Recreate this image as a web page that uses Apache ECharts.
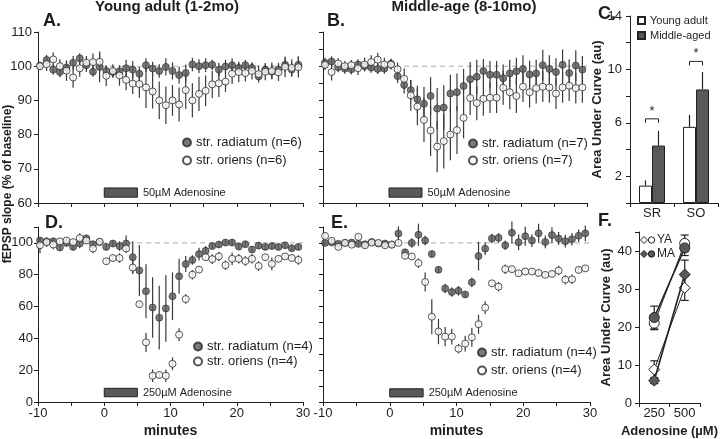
<!DOCTYPE html>
<html><head><meta charset="utf-8">
<script src="https://cdn.jsdelivr.net/npm/echarts@6/dist/echarts.min.js"></script>
<style>html,body{margin:0;padding:0;background:#fff}#c{width:720px;height:439px}</style>
</head><body><div id="c"></div>
<script>
// ---------- DATA ----------
const minutes = [-9.7,-8.7,-7.7,-6.7,-5.7,-4.7,-3.7,-2.7,-1.7,-0.7,0.3,1.3,2.3,3.3,4.3,5.3,6.3,7.3,8.3,9.3,10.3,11.3,12.3,13.3,14.3,15.3,16.3,17.3,18.3,19.3,20.3,21.3,22.3,23.3,24.3,25.3,26.3,27.3,28.3,29.3];
const adenosinePeriod = [0, 5];
const baselineLevel = 100;

// A: young adult, 50 uM
const aRad = [100.2,101.8,99.0,98.3,99.6,101.0,102.3,100.3,98.4,99.8,98.6,98.3,98.5,99.4,99.0,97.8,100.3,99.3,98.6,99.8,98.6,97.4,98.0,100.5,100.0,100.3,100.4,99.0,99.9,100.3,99.5,100.3,99.5,97.0,99.0,98.4,99.0,100.4,99.0,100.4];
const aRadErr = [1.0,1.5,1.5,1.5,1.5,2.0,1.5,2.0,1.5,4.5,1.5,1.5,1.5,2.5,2.5,2.0,2.0,2.0,2.0,2.5,2.5,2.5,2.5,2.0,2.0,2.0,1.5,2.0,2.0,2.0,1.5,1.5,1.5,1.5,1.5,2.0,2.0,2.0,2.0,2.5];
const aOri = [100.0,100.6,102.0,100.0,98.7,96.7,99.4,101.0,101.2,101.3,97.2,98.6,97.3,96.0,94.9,94.8,93.8,92.6,90.0,88.6,90.0,88.8,93.0,90.0,91.9,92.8,94.7,95.0,95.5,97.8,98.3,98.0,98.6,97.7,98.4,98.6,98.2,99.8,99.5,99.7];
const aOriErr = [1.0,2.0,2.0,2.0,3.0,3.0,2.5,2.0,2.5,2.5,3.0,2.0,3.0,3.0,3.0,4.0,6.0,5.0,5.5,5.5,4.5,5.0,5.5,5.0,5.0,4.5,4.0,4.0,3.0,3.0,3.0,2.5,2.5,2.5,2.5,2.5,2.5,3.0,2.5,3.0];

// B: middle-age, 50 uM
const bRad = [101.0,101.4,99.7,99.3,99.1,100.5,100.0,99.6,99.2,99.3,100.7,97.1,94.5,93.0,90.3,89.0,91.3,87.6,87.9,92.0,92.4,94.2,96.2,96.9,98.6,97.5,97.5,96.5,97.9,98.5,99.2,97.6,97.9,100.3,99.2,98.3,100.4,98.0,100.2,99.0];
const bRadErr = [1.5,1.5,1.5,1.5,1.5,1.5,1.5,1.5,1.5,1.5,1.5,2.0,2.5,3.0,4.0,5.0,5.5,6.0,6.5,5.5,5.5,5.0,5.0,5.0,3.5,4.0,4.0,4.0,4.0,4.0,4.0,4.0,4.0,4.5,4.0,4.0,4.5,4.0,4.5,4.0];
const bOri = [100.4,98.3,100.8,100.0,100.3,99.4,100.5,101.2,101.9,100.5,100.5,99.1,96.3,91.5,88.2,84.3,81.2,76.5,78.1,80.0,81.3,84.9,90.7,89.2,90.5,90.8,90.8,93.7,92.4,91.3,94.0,92.4,93.6,94.0,93.8,92.0,93.8,94.3,93.6,93.8];
const bOriErr = [1.5,2.5,1.5,1.5,1.5,2.0,2.0,2.0,2.0,2.0,1.5,2.0,3.0,4.5,5.5,6.5,7.5,7.5,8.0,7.5,7.0,6.0,5.0,5.0,5.0,4.5,4.5,5.0,5.0,5.0,4.5,4.5,4.5,4.5,4.5,4.5,4.5,4.5,4.5,4.5];

// D: young adult, 250 uM
const dRad = [101.5,101.0,101.0,97.1,100.0,97.5,99.6,102.9,99.2,100.5,97.5,99.6,98.0,99.6,91.0,82.7,69.6,59.4,53.0,58.8,66.5,79.0,86.7,89.3,93.0,95.0,98.0,99.0,100.2,100.2,97.7,99.2,95.8,98.3,97.5,98.0,97.5,98.5,96.7,97.5];
const dRadErr = [2,2,2,2,2,2,3,2,2,2,2,2,3,5,10,16,17,19,20,21,15,11,5,3,4,3,2,2,2,2,2,2,2,2,2,2,2,2,2,2];
const dOri = [98.5,100.5,99.0,101.0,101.5,100.5,103.0,101.5,96.5,100.8,88.5,90.5,90.5,96.5,84.5,61.5,37.5,16.5,17.0,16.5,24.0,42.3,64.7,80.0,83.2,91.0,89.8,91.5,86.0,90.0,90.0,88.6,90.0,85.5,91.0,86.8,90.0,91.5,90.5,89.3];
const dOriErr = [5,3,3,2,2,2,3,2,3,1.5,2,2,3,3,4,2,6,4,2,4,4,4,3,3,2,2,3,3,3,4,3,3,3,3,2,4,2,2,2,3];

// E: middle-age, 250 uM
const eRad = [100.0,100.3,99.4,100.0,100.2,99.4,99.2,100.6,99.6,99.6,99.0,105.9,94.1,100.0,105.1,101.5,93.0,83.1,71.4,69.1,69.9,67.6,75.2,91.7,96.4,102.8,103.2,98.5,106.4,100.4,104.2,101.5,106.1,100.6,104.9,102.8,101.1,102.3,104.5,106.0];
const eRadErr = [1.5,1.5,1.5,1.5,1.5,1.5,1.5,1.5,1.5,1.5,1.5,4.5,2,3,7,3,2,2,3,3,3,2,3,9,4,3,3,3,7,5,6,4,6,4,5,4,4,4,4,5];
const eOri = [104.4,101.3,97.5,100.0,98.9,103.8,98.5,100.2,100.0,98.5,98.9,100.0,91.9,91.5,87.3,75.4,53.6,44.3,41.1,41.1,33.5,36.7,40.7,48.9,59.3,74.6,72.5,83.5,83.5,80.9,82.0,82.0,81.1,79.9,80.5,82.6,76.9,77.1,83.0,84.0];
const eOriErr = [1.5,1.5,1.5,1.5,1.5,1.5,1.5,1.5,1.5,1.5,1.5,1.5,2,2,3,6,11,8,6,5,3,5,6,6,4,2,3,3,2,2,2,2,2,2,2,3,3,3,2,2];

// C: area under curve, 50 uM
const cCats = ['SR', 'SO'];
const cYoung = [1.3, 5.7];
const cYoungErr = [0.4, 0.9];
const cMiddle = [4.3, 8.5];
const cMiddleErr = [1.1, 1.3];
const cSigLevel = [6.3, 10.6];

// F: area under curve vs adenosine
const fCats = ['250', '500'];
const fYAcirc = [21.0, 42.0];
const fYAcircErr = [1.7, 2.2];
const fMAcirc = [22.5, 40.8];
const fMAcircErr = [3.0, 2.0];
const fYAdia = [8.8, 30.3];
const fYAdiaErr = [2.3, 3.3];
const fMAdia = [5.9, 33.8];
const fMAdiaErr = [0.8, 3.8];

// ---------- STYLE ----------
const FONT = 'Liberation Sans, Arial, sans-serif';
const INK = '#1e1e1e';
const DARK = '#595959';

function timeAxis(gi, withLabels) {
  return {
    type: 'value', gridIndex: gi, min: -10, max: 30, interval: 5,
    axisLine: { show: true, onZero: false, lineStyle: { color: INK, width: 1 } },
    axisTick: { show: true, length: 4, lineStyle: { color: INK } },
    splitLine: { show: false },
    axisLabel: { show: withLabels, formatter: v => (v % 10 === 0 ? String(v) : ''), color: INK, fontSize: 13, fontFamily: FONT, margin: 5 },
    name: withLabels ? 'minutes' : '', nameLocation: 'middle', nameGap: 22,
    nameTextStyle: { fontWeight: 'bold', fontSize: 14, color: INK, fontFamily: FONT }
  };
}
function valAxis(gi, min, max, interval, fmt, margin, name, nameGap) {
  return {
    type: 'value', gridIndex: gi, min, max, interval,
    axisLine: { show: true, onZero: false, lineStyle: { color: INK, width: 1 } },
    axisTick: { show: true, length: 4, lineStyle: { color: INK } },
    splitLine: { show: false },
    axisLabel: { show: !!fmt, formatter: fmt || undefined, color: INK, fontSize: 13, fontFamily: FONT, margin: margin || 6 },
    name: name || '', nameLocation: 'middle', nameGap: nameGap || 20,
    nameTextStyle: { fontWeight: 'bold', fontSize: 13, color: INK, fontFamily: FONT }
  };
}
function catAxis(gi, cats, name) {
  return {
    type: 'category', gridIndex: gi, data: cats, boundaryGap: true,
    axisLine: { show: true, onZero: false, lineStyle: { color: INK, width: 1 } },
    axisTick: { show: true, length: 4, lineStyle: { color: INK } },
    axisLabel: { color: INK, fontSize: 13, fontFamily: FONT, margin: 4 },
    name: name || '', nameLocation: 'middle', nameGap: 22,
    nameTextStyle: { fontWeight: 'bold', fontSize: 13, color: INK, fontFamily: FONT }
  };
}

function errBars(vals, errs, xi) {
  return {
    type: 'custom', xAxisIndex: xi, yAxisIndex: xi, z: 1, silent: true,
    data: vals.map((v, i) => [minutes[i], v, errs[i]]),
    renderItem: (p, api) => {
      const x = api.value(0), y = api.value(1), e = api.value(2);
      const a = api.coord([x, y - e]), b = api.coord([x, y + e]);
      return { type: 'line', shape: { x1: a[0], y1: a[1], x2: b[0], y2: b[1] }, style: { stroke: '#3a3a3a', lineWidth: 1.2 } };
    }
  };
}
function pts(name, vals, xi, filled) {
  return {
    type: 'scatter', name, xAxisIndex: xi, yAxisIndex: xi, z: filled ? 3 : 4,
    symbol: 'circle', symbolSize: 7,
    data: vals.map((v, i) => [minutes[i], v]),
    itemStyle: filled ? { color: DARK, borderColor: '#2a2a2a', borderWidth: 0.8 } : { color: '#fff', borderColor: '#2a2a2a', borderWidth: 1 },
    emphasis: { disabled: true }
  };
}
function baseline(xi, yLo, yHi, label) {
  return {
    type: 'line', xAxisIndex: xi, yAxisIndex: xi, z: 0, symbol: 'none', silent: true,
    data: [[-10, baselineLevel], [30, baselineLevel]],
    lineStyle: { color: '#aaa', width: 1, type: [5, 4] },
    markArea: {
      silent: true,
      itemStyle: { color: DARK, borderColor: '#222', borderWidth: 1 },
      label: { show: true, position: 'right', distance: 5, color: INK, fontSize: 11, fontFamily: FONT, formatter: label },
      data: [[{ coord: [adenosinePeriod[0], yLo] }, { coord: [adenosinePeriod[1], yHi] }]]
    }
  };
}
function cErr(vals, errs, side) {
  return {
    type: 'custom', xAxisIndex: 2, yAxisIndex: 2, z: 1, silent: true,
    data: vals.map((v, i) => [i, v, errs[i], side]),
    renderItem: (p, api) => {
      const a = api.coord([api.value(0), api.value(1)]);
      const b = api.coord([api.value(0), api.value(1) + api.value(2)]);
      const dx = api.value(3) * 6.5;
      return { type: 'line', shape: { x1: a[0] + dx, y1: a[1], x2: b[0] + dx, y2: b[1] }, style: { stroke: '#222', lineWidth: 1.2 } };
    }
  };
}
function fErr(vals, errs) {
  return {
    type: 'custom', xAxisIndex: 5, yAxisIndex: 5, z: 1, silent: true,
    data: vals.map((v, i) => [i, v, errs[i]]),
    renderItem: (p, api) => {
      const c = api.value(0), y = api.value(1), e = api.value(2);
      const a = api.coord([c, y - e]), b = api.coord([c, y + e]);
      const st = { stroke: '#222', lineWidth: 1.2 };
      return { type: 'group', children: [
        { type: 'line', shape: { x1: a[0], y1: a[1], x2: b[0], y2: b[1] }, style: st },
        { type: 'line', shape: { x1: a[0] - 4, y1: a[1], x2: a[0] + 4, y2: a[1] }, style: st },
        { type: 'line', shape: { x1: b[0] - 4, y1: b[1], x2: b[0] + 4, y2: b[1] }, style: st }
      ] };
    }
  };
}
function fLine(vals, symbol, size, filled, lw) {
  return {
    type: 'line', xAxisIndex: 5, yAxisIndex: 5, z: filled ? 4 : 3, data: vals,
    symbol, symbolSize: size, showSymbol: true,
    itemStyle: filled ? { color: DARK, borderColor: '#222', borderWidth: 1 } : { color: '#fff', borderColor: '#222', borderWidth: 1 },
    lineStyle: { color: '#222', width: lw }, emphasis: { disabled: true }
  };
}

const legendBase = { orient: 'vertical', padding: 0, itemWidth: 8, itemHeight: 8, selectedMode: false,
  textStyle: { fontSize: 13, fontFamily: FONT, color: INK } };

function txt(x, y, s, font, align, rot) {
  return { type: 'text', x, y, rotation: rot || 0, silent: true,
    style: { text: s, font: font + ' ' + FONT, fill: INK, align: align || 'left', verticalAlign: 'middle' } };
}

const option = {
  animation: false,
  backgroundColor: '#fff',
  grid: [
    { left: 38, top: 32, width: 265, height: 171 },
    { left: 323, top: 32, width: 264, height: 171 },
    { left: 630, top: 16, width: 88, height: 187 },
    { left: 38, top: 227, width: 265, height: 175 },
    { left: 323, top: 227, width: 267, height: 175 },
    { left: 639, top: 232, width: 79, height: 173 }
  ],
  xAxis: [
    timeAxis(0, false), timeAxis(1, false), catAxis(2, cCats),
    timeAxis(3, true), timeAxis(4, true), catAxis(5, fCats, 'Adenosine (µM)')
  ],
  yAxis: [
    valAxis(0, 60, 110, 10, v => String(v), 6),
    valAxis(1, 60, 110, 5, null),
    valAxis(2, 0, 14, 2, v => ((v - 2) % 4 === 0 ? String(v) : ''), 8, 'Area Under Curve (au)', 20),
    valAxis(3, 0, 110, 20, v => (v % 20 === 0 ? String(v) : ''), 5),
    valAxis(4, 0, 110, 10, null),
    valAxis(5, 0, 45, 10, v => (v % 10 === 0 ? String(v) : ''), 7, 'Area Under Curve (au)', 26)
  ],
  legend: [
    Object.assign({}, legendBase, { data: ['str. radiatum (n=6)', 'str. oriens (n=6)'], left: 182, top: 136, itemGap: 5 }),
    Object.assign({}, legendBase, { data: ['str. radiatum (n=7)', 'str. oriens (n=7)'], left: 468, top: 137, itemGap: 4 }),
    Object.assign({}, legendBase, { data: ['Young adult', 'Middle-aged'], left: 637, top: 15, itemGap: 4, icon: 'rect',
      itemWidth: 7, itemHeight: 7, textStyle: { fontSize: 11, fontFamily: FONT, color: INK } }),
    Object.assign({}, legendBase, { data: ['str. radiatum (n=4)', 'str. oriens (n=4)'], left: 193, top: 340, itemGap: 2 }),
    Object.assign({}, legendBase, { data: ['str. radiatum (n=4)', 'str. oriens (n=4)'], left: 477, top: 346, itemGap: 5 })
  ],
  series: [
    baseline(0, 61.7, 64.4, '50µM Adenosine'),
    errBars(aRad, aRadErr, 0), errBars(aOri, aOriErr, 0),
    pts('str. radiatum (n=6)', aRad, 0, true), pts('str. oriens (n=6)', aOri, 0, false),

    baseline(1, 61.7, 64.4, '50µM Adenosine'),
    errBars(bRad, bRadErr, 1), errBars(bOri, bOriErr, 1),
    pts('str. radiatum (n=7)', bRad, 1, true), pts('str. oriens (n=7)', bOri, 1, false),

    baseline(3, 3.3, 8.6, '250µM Adenosine'),
    errBars(dRad, dRadErr, 3), errBars(dOri, dOriErr, 3),
    pts('str. radiatum (n=4)', dRad, 3, true), pts('str. oriens (n=4)', dOri, 3, false),

    baseline(4, 3.2, 8.3, '250µM Adenosine'),
    errBars(eRad, eRadErr, 4), errBars(eOri, eOriErr, 4),
    pts('str. radiatum (n=4)', eRad, 4, true), pts('str. oriens (n=4)', eOri, 4, false),

    { type: 'bar', name: 'Young adult', xAxisIndex: 2, yAxisIndex: 2, data: cYoung, barWidth: 13, barGap: '0%', z: 2,
      itemStyle: { color: '#fff', borderColor: '#222', borderWidth: 1 }, emphasis: { disabled: true } },
    { type: 'bar', name: 'Middle-aged', xAxisIndex: 2, yAxisIndex: 2, data: cMiddle, barWidth: 13, barGap: '0%', z: 2,
      itemStyle: { color: DARK, borderColor: '#222', borderWidth: 1 }, emphasis: { disabled: true } },
    cErr(cYoung, cYoungErr, -1), cErr(cMiddle, cMiddleErr, 1),
    { type: 'custom', xAxisIndex: 2, yAxisIndex: 2, z: 3, silent: true,
      data: cSigLevel.map((v, i) => [i, v]),
      renderItem: (p, api) => {
        const c = api.coord([api.value(0), api.value(1)]);
        const st = { stroke: '#222', lineWidth: 1 };
        return { type: 'group', children: [
          { type: 'line', shape: { x1: c[0] - 6.5, y1: c[1], x2: c[0] + 6.5, y2: c[1] }, style: st },
          { type: 'line', shape: { x1: c[0] - 6.5, y1: c[1], x2: c[0] - 6.5, y2: c[1] + 4 }, style: st },
          { type: 'line', shape: { x1: c[0] + 6.5, y1: c[1], x2: c[0] + 6.5, y2: c[1] + 4 }, style: st },
          { type: 'text', x: c[0], y: c[1] - 1, style: { text: '*', font: '13px ' + FONT, fill: INK, align: 'center', verticalAlign: 'bottom' } }
        ] };
      }
    },

    fErr(fYAdia, fYAdiaErr), fErr(fYAcirc, fYAcircErr), fErr(fMAdia, fMAdiaErr), fErr(fMAcirc, fMAcircErr),
    fLine(fYAdia, 'diamond', 11, false, 1), fLine(fYAcirc, 'circle', 10, false, 1),
    fLine(fMAdia, 'diamond', 11, true, 1.6), fLine(fMAcirc, 'circle', 10, true, 1.6)
  ],
  graphic: [
    txt(167, 7, 'Young adult (1-2mo)', 'bold 15px', 'center'),
    txt(464, 7, 'Middle-age (8-10mo)', 'bold 15px', 'center'),
    txt(43, 21, 'A.', 'bold 18px'),
    txt(327, 21, 'B.', 'bold 18px'),
    txt(598, 14, 'C.', 'bold 18px'),
    txt(45, 223, 'D.', 'bold 18px'),
    txt(331, 223, 'E.', 'bold 18px'),
    txt(598, 221, 'F.', 'bold 18px'),
    txt(8, 184, 'fEPSP slope (% of baseline)', 'bold 12px', 'center', Math.PI / 2),
    { type: 'polygon', silent: true, shape: { points: [[644, 236.5], [647.5, 240], [644, 243.5], [640.5, 240]] }, style: { fill: '#fff', stroke: '#222', lineWidth: 1 } },
    { type: 'circle', silent: true, shape: { cx: 651.5, cy: 240, r: 3.2 }, style: { fill: '#fff', stroke: '#222', lineWidth: 1 } },
    txt(657, 240, 'YA', '12px'),
    { type: 'polygon', silent: true, shape: { points: [[644, 250.5], [647.5, 254], [644, 257.5], [640.5, 254]] }, style: { fill: DARK, stroke: '#222', lineWidth: 1 } },
    { type: 'circle', silent: true, shape: { cx: 651.5, cy: 254, r: 3.2 }, style: { fill: DARK, stroke: '#222', lineWidth: 1 } },
    txt(657, 254, 'MA', '12px')
  ]
};

const chart = echarts.init(document.getElementById('c'), null, { renderer: 'canvas' });
chart.setOption(option);
</script>
</body></html>
